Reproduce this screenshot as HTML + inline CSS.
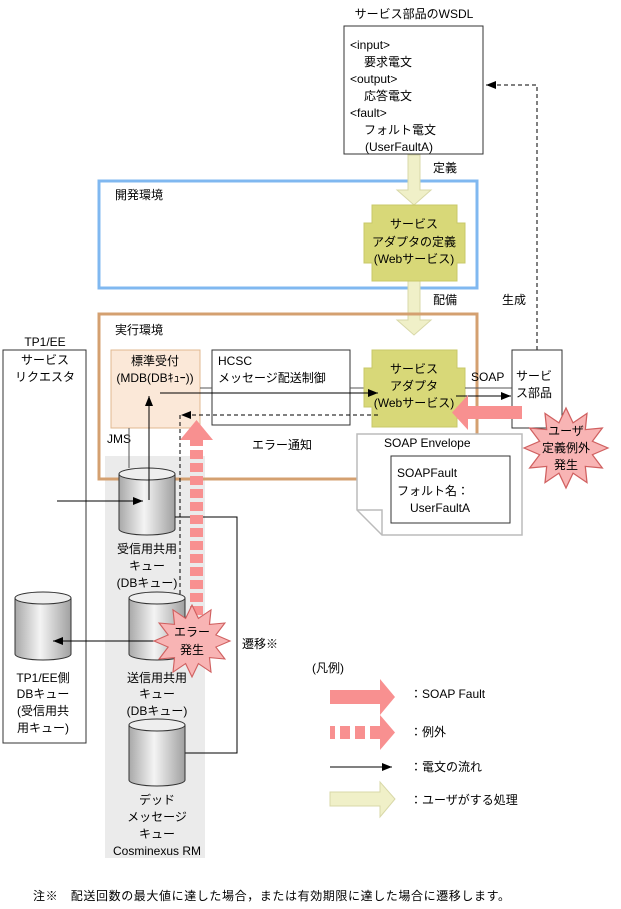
<!DOCTYPE html>
<html><head><meta charset="utf-8"><style>
html,body{margin:0;padding:0;background:#fff;}
svg{display:block;}
text{font-family:"Liberation Sans","Noto Sans CJK JP",sans-serif;font-size:12px;fill:#000;}
</style></head><body>
<svg width="621" height="909" viewBox="0 0 621 909" xmlns="http://www.w3.org/2000/svg">
<defs>
<linearGradient id="cyl" x1="0" x2="1" y1="0" y2="0">
<stop offset="0" stop-color="#a8a8a8"/><stop offset="0.45" stop-color="#f4f4f4"/><stop offset="1" stop-color="#a0a0a0"/>
</linearGradient>
<polygon id="star" points="1,0 0.628,0.168 0.866,0.5 0.46,0.46 0.5,0.866 0.168,0.628 0,1 -0.168,0.628 -0.5,0.866 -0.46,0.46 -0.866,0.5 -0.628,0.168 -1,0 -0.628,-0.168 -0.866,-0.5 -0.46,-0.46 -0.5,-0.866 -0.168,-0.628 0,-1 0.168,-0.628 0.5,-0.866 0.46,-0.46 0.866,-0.5 0.628,-0.168"/>
<marker id="ah" markerWidth="10" markerHeight="8" refX="10" refY="4" orient="auto" markerUnits="userSpaceOnUse"><path d="M0,0 L10,4 L0,8Z" fill="#000"/></marker>
</defs>

<rect x="105" y="456" width="100" height="402" fill="#ebebeb"/>

<text x="414" y="18" text-anchor="middle">サービス部品のWSDL</text>
<rect x="344" y="26" width="139" height="128" fill="#fff" stroke="#333"/>
<text x="350" y="49">&lt;input&gt;</text>
<text x="364" y="66">要求電文</text>
<text x="350" y="83">&lt;output&gt;</text>
<text x="364" y="100">応答電文</text>
<text x="350" y="117">&lt;fault&gt;</text>
<text x="364" y="134">フォルト電文</text>
<text x="365" y="151">(UserFaultA)</text>

<path d="M537,350 V85 H486" fill="none" stroke="#000" stroke-dasharray="4,3"/>
<path d="M486,85 l10,-4 v8z" fill="#000"/>
<text x="433" y="172">定義</text>
<text x="433" y="304">配備</text>
<text x="502" y="304">生成</text>

<rect x="99" y="181" width="378" height="107" fill="none" stroke="#80b8f0" stroke-width="3"/>
<text x="115" y="199">開発環境</text>

<path d="M408,155 H420 V190 H431 L414,205 L397,190 H408Z" fill="#f0f0c8" stroke="#d8d8a8"/>
<path d="M408,281 H420 V320 H431 L414,335 L397,320 H408Z" fill="#f0f0c8" stroke="#d8d8a8"/>

<path d="M372,205 H457 V223 H465 V263 H457 V281 H372 V263 H364 V223 H372Z" fill="#d8d878" stroke="#c8c868"/>
<text x="414" y="228" text-anchor="middle">サービス</text>
<text x="414" y="246" text-anchor="middle">アダプタの定義</text>
<text x="414" y="263" text-anchor="middle">(Webサービス)</text>

<rect x="99" y="314" width="378" height="165" fill="none" stroke="#d4a070" stroke-width="3"/>
<text x="115" y="334">実行環境</text>

<rect x="111" y="350" width="89" height="78" fill="#fbe8d8" stroke="#e0b890"/>
<text x="155" y="365" text-anchor="middle">標準受付</text>
<text x="155" y="382" text-anchor="middle">(MDB(DBｷｭｰ))</text>

<rect x="212" y="350" width="138" height="75" fill="#fff" stroke="#333"/>
<text x="218" y="365">HCSC</text>
<text x="218" y="382">メッセージ配送制御</text>
<line x1="200" y1="388" x2="212" y2="388" stroke="#555"/>
<line x1="350" y1="388" x2="365" y2="388" stroke="#555"/>

<path d="M372,350 H457 V368 H465 V407 H457 V427 H372 V407 H364 V368 H372Z" fill="#d8d878" stroke="#c8c868"/>
<text x="414" y="373" text-anchor="middle">サービス</text>
<text x="414" y="390" text-anchor="middle">アダプタ</text>
<text x="414" y="407" text-anchor="middle">(Webサービス)</text>

<rect x="512" y="350" width="50" height="78" fill="#fff" stroke="#333"/>
<text x="516" y="380">サービ</text>
<text x="516" y="397">ス部品</text>
<text x="471" y="381">SOAP</text>
<line x1="465" y1="388" x2="512" y2="388" stroke="#555"/>
<line x1="456" y1="396" x2="511" y2="396" stroke="#000" marker-end="url(#ah)"/>

<line x1="160" y1="393" x2="378" y2="393" stroke="#000" marker-end="url(#ah)"/>

<path d="M378,415 H184" fill="none" stroke="#000" stroke-dasharray="4,3"/>
<path d="M181,415 l10,-4 v8z" fill="#000"/>
<path d="M180,415 V602" fill="none" stroke="#000" stroke-dasharray="4,3"/>
<path d="M180,607 l-4,-10 h8z" fill="#000"/>
<text x="252" y="449">エラー通知</text>

<path d="M357,434 H522 V535 H382 L357,510Z" fill="#fff" stroke="#bbb" stroke-width="1.5"/>
<path d="M357,510 H382 V535" fill="none" stroke="#bbb" stroke-width="1.5"/>
<text x="384" y="447">SOAP Envelope</text>
<rect x="391" y="456" width="119" height="67" fill="#fff" stroke="#333"/>
<text x="397" y="477">SOAPFault</text>
<text x="397" y="495">フォルト名：</text>
<text x="410" y="512">UserFaultA</text>

<path d="M522,406 V419 H468 V430 L452,412.5 L468,395 V406Z" fill="#f89090"/>

<use href="#star" transform="translate(566,448) scale(42,40)" fill="#f8b4b4" stroke="#d06060" stroke-width="0.03"/>
<text x="566" y="435" text-anchor="middle">ユーザ</text>
<text x="566" y="452" text-anchor="middle">定義例外</text>
<text x="566" y="469" text-anchor="middle">発生</text>

<text x="45" y="346" text-anchor="middle">TP1/EE</text>
<rect x="3" y="350" width="83" height="393" fill="#fff" stroke="#333"/>
<text x="45" y="364" text-anchor="middle">サービス</text>
<text x="45" y="381" text-anchor="middle">リクエスタ</text>

<text x="107" y="443">JMS</text>
<line x1="129" y1="428" x2="129" y2="468" stroke="#555"/>

<path d="M119,474 V529 A28,6 0 0 0 175,529 V474" fill="url(#cyl)" stroke="#333"/>
<ellipse cx="147" cy="474" rx="28" ry="6" fill="#eee" stroke="#333"/>
<text x="147" y="553" text-anchor="middle">受信用共用</text>
<text x="147" y="570" text-anchor="middle">キュー</text>
<text x="147" y="587" text-anchor="middle">(DBキュー)</text>
<line x1="57" y1="501" x2="143" y2="501" stroke="#000" marker-end="url(#ah)"/>
<line x1="149" y1="500" x2="149" y2="396" stroke="#000" marker-end="url(#ah)"/>
<path d="M175,517 H237 V753 H172" fill="none" stroke="#000" marker-end="url(#ah)"/>
<text x="242" y="648">遷移※</text>

<path d="M129,598 V654 A28,6 0 0 0 185,654 V598" fill="url(#cyl)" stroke="#333"/>
<ellipse cx="157" cy="598" rx="28" ry="6" fill="#eee" stroke="#333"/>
<text x="157" y="682" text-anchor="middle">送信用共用</text>
<text x="157" y="698" text-anchor="middle">キュー</text>
<text x="157" y="715" text-anchor="middle">(DBキュー)</text>

<path d="M15,598 V654 A28,6 0 0 0 71,654 V598" fill="url(#cyl)" stroke="#333"/>
<ellipse cx="43" cy="598" rx="28" ry="6" fill="#eee" stroke="#333"/>
<text x="43" y="682" text-anchor="middle">TP1/EE側</text>
<text x="43" y="698" text-anchor="middle">DBキュー</text>
<text x="43" y="715" text-anchor="middle">(受信用共</text>
<text x="43" y="732" text-anchor="middle">用キュー)</text>
<line x1="175" y1="641" x2="53" y2="641" stroke="#000" marker-end="url(#ah)"/>

<path d="M129,725 V780 A28,6 0 0 0 185,780 V725" fill="url(#cyl)" stroke="#333"/>
<ellipse cx="157" cy="725" rx="28" ry="6" fill="#eee" stroke="#333"/>
<text x="157" y="804" text-anchor="middle">デッド</text>
<text x="157" y="821" text-anchor="middle">メッセージ</text>
<text x="157" y="838" text-anchor="middle">キュー</text>
<text x="157" y="855" text-anchor="middle">Cosminexus RM</text>

<g fill="#f89090">
<rect x="190" y="450" width="13" height="9"/><rect x="190" y="463" width="13" height="9"/><rect x="190" y="476" width="13" height="9"/>
<rect x="190" y="489" width="13" height="9"/><rect x="190" y="502" width="13" height="9"/><rect x="190" y="515" width="13" height="9"/>
<rect x="190" y="528" width="13" height="9"/><rect x="190" y="541" width="13" height="9"/><rect x="190" y="554" width="13" height="9"/>
<rect x="190" y="567" width="13" height="9"/><rect x="190" y="580" width="13" height="9"/><rect x="190" y="593" width="13" height="9"/>
<rect x="190" y="606" width="13" height="9"/>
<path d="M190,440 H180 L196.5,420 L213,440 H203 V446 H190Z"/>
</g>

<use href="#star" transform="translate(192,641) scale(38,36)" fill="#f8b4b4" stroke="#d06060" stroke-width="0.03"/>
<text x="192" y="636" text-anchor="middle">エラー</text>
<text x="192" y="654" text-anchor="middle">発生</text>

<text x="312" y="672">(凡例)</text>
<path d="M330,690 H380 V679 L395,697 L380,715 V704 H330Z" fill="#f89090"/>
<text x="410" y="698">：SOAP Fault</text>
<g fill="#f89090">
<rect x="330" y="726" width="5" height="13"/><rect x="340" y="726" width="10" height="13"/><rect x="355" y="726" width="10" height="13"/><rect x="370" y="726" width="10" height="13"/>
<path d="M380,715 L395,732.5 L380,750Z"/>
</g>
<text x="410" y="736">：例外</text>
<line x1="330" y1="767" x2="392" y2="767" stroke="#000" marker-end="url(#ah)"/>
<text x="410" y="771">：電文の流れ</text>
<path d="M330,792 H380 V782 L395,799 L380,817 V806 H330Z" fill="#f0f0c8" stroke="#d8d8a8"/>
<text x="410" y="804">：ユーザがする処理</text>

<text x="33" y="900" style="letter-spacing:0.6px">注※　配送回数の最大値に達した場合，または有効期限に達した場合に遷移します。</text>
</svg>
</body></html>
